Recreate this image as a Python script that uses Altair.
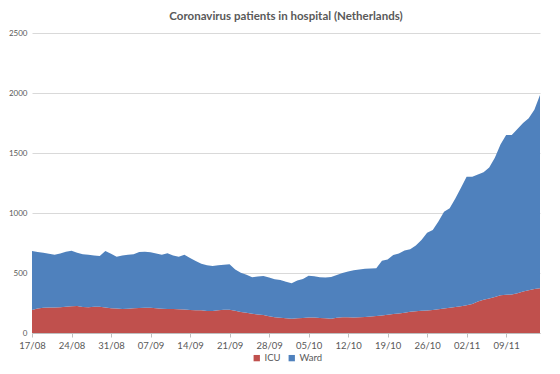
import altair as alt
import pandas as pd

tick_labels = ["17/08", "24/08", "31/08", "07/09", "14/09", "21/09", "28/09",
               "05/10", "12/10", "19/10", "26/10", "02/11", "09/11"]

icu = [192, 205, 211, 212, 213, 214, 218, 222, 225, 216, 214, 218, 218, 212, 207,
       205, 201, 203, 206, 209, 211, 210, 206, 203, 201, 199, 197, 195, 192, 190,
       189, 184, 184, 190, 193, 194, 185, 176, 168, 160, 155, 150, 140, 131, 127,
       123, 119, 122, 126, 130, 130, 126, 122, 119, 127, 131, 131, 130, 131, 134,
       137, 141, 146, 152, 158, 163, 168, 178, 182, 185, 188, 192, 197, 204, 210,
       216, 222, 232, 242, 262, 278, 287, 300, 315, 318, 321, 332, 346, 356, 366,
       372]

ward = [491, 471, 457, 448, 439, 448, 460, 464, 443, 440, 439, 427, 424, 471, 453,
        431, 445, 449, 450, 467, 467, 462, 456, 449, 463, 446, 439, 458, 433, 410,
        389, 381, 374, 374, 375, 379, 345, 327, 317, 304, 315, 325, 322, 317, 315,
        305, 295, 316, 324, 348, 342, 339, 340, 347, 356, 369, 381, 392, 399, 401,
        400, 399, 457, 460, 492, 500, 520, 519, 548, 590, 647, 666, 733, 806, 829,
        904, 988, 1071, 1061, 1058, 1061, 1093, 1160, 1255, 1332, 1329, 1368, 1404,
        1434, 1494, 1611]

series = ["ICU", "Ward"]
colors = ["#c0504d", "#4f81bd"]

rows = []
for i, v in enumerate(icu):
    rows.append({"day": i, "series": "ICU", "value": v, "ord": 0})
for i, v in enumerate(ward):
    rows.append({"day": i, "series": "Ward", "value": v, "ord": 1})
df = pd.DataFrame(rows)

label_arr = "[" + ",".join("'%s'" % t for t in tick_labels) + "]"
font = "Lato"

chart = alt.Chart(df).mark_area(opacity=1, strokeWidth=0).encode(
    x=alt.X("day:Q",
            scale=alt.Scale(domain=[0, 90], nice=False, zero=False),
            axis=alt.Axis(values=[7 * k for k in range(len(tick_labels))],
                          labelExpr=label_arr + "[round(datum.value/7)]",
                          title=None, grid=False, domainColor="#bfbfbf",
                          tickColor="#bfbfbf", tickSize=4, labelColor="#595959",
                          labelFontSize=9.5, labelFont=font, labelPadding=3,
                          labelFlush=False, labelOverlap=False)),
    y=alt.Y("value:Q", stack="zero",
            scale=alt.Scale(domain=[0, 2500], nice=False),
            axis=alt.Axis(values=[0, 500, 1000, 1500, 2000, 2500], title=None,
                          format="d", domain=False, ticks=False, gridColor="#d9d9d9",
                          labelColor="#595959", labelFontSize=8,
                          labelFont=font, labelPadding=5)),
    color=alt.Color("series:N",
                    scale=alt.Scale(domain=series, range=colors),
                    legend=alt.Legend(title=None, orient="none", direction="horizontal",
                                      legendX=220, legendY=320, symbolType="square",
                                      symbolSize=40, labelFontSize=9.5,
                                      labelFont=font, labelColor="#595959",
                                      columnPadding=6, labelOffset=3,
                                      symbolStrokeWidth=0)),
    order=alt.Order("ord:Q"),
).properties(
    width=508,
    height=300,
    title=alt.TitleParams("Coronavirus patients in hospital (Netherlands)",
                          font=font, fontSize=11.5, fontWeight="bold",
                          color="#595959", offset=7),
    padding={"left": 24, "top": 25, "right": 12, "bottom": 33},
    autosize=alt.AutoSizeParams(type="none"),
).configure_view(stroke=None)

chart.save("out.html", embed_options={"renderer": "svg", "actions": False})
